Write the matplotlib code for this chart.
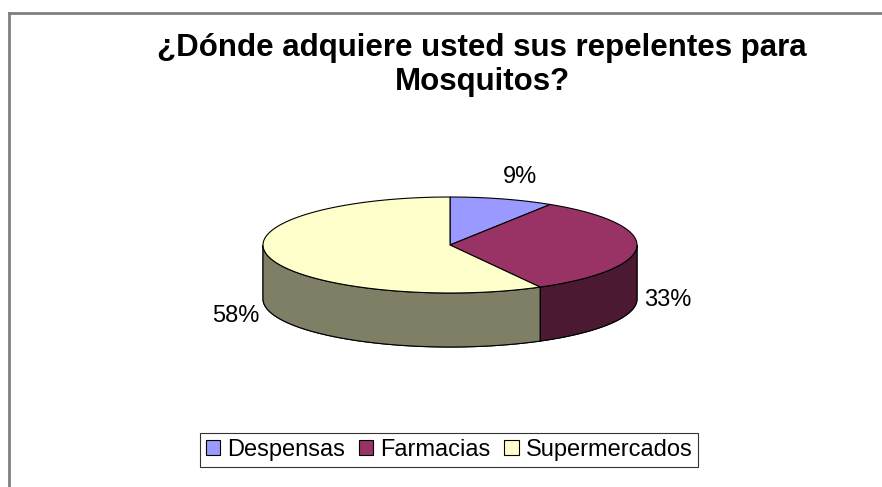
import numpy as np
import matplotlib.pyplot as plt
from matplotlib.patches import Polygon, Patch
from matplotlib.lines import Line2D

plt.rcParams['font.family'] = ['Liberation Sans', 'DejaVu Sans']

categories = ["Despensas", "Farmacias", "Supermercados"]
shares = [9, 33, 58]
top_colors = ["#9999FF", "#993366", "#FFFFCC"]
side_colors = ["#4C4C80", "#4C1933", "#7F7F66"]

fig = plt.figure(figsize=(8.82, 4.87), dpi=100)
ax = fig.add_axes([0, 0, 1, 1])
ax.set_xlim(0, 882)
ax.set_ylim(487, 0)
ax.axis("off")

# pie geometry (pixel units)
cx, cy = 450, 245
rx, ry = 187, 48
depth = 54

fracs = np.array(shares) / sum(shares)
starts = 90 - 360 * np.concatenate([[0], np.cumsum(fracs)[:-1]])
ends = starts - 360 * fracs


def arc(a1, a2, n=100):
    t = np.radians(np.linspace(a1, a2, n))
    return cx + rx * np.cos(t), cy - ry * np.sin(t)


def side(a_hi, a_lo, col):
    x, y = arc(a_hi, a_lo)
    xs = np.concatenate([x, x[::-1]])
    ys = np.concatenate([y, (y + depth)[::-1]])
    ax.add_patch(Polygon(np.column_stack([xs, ys]), closed=True,
                         facecolor=col, edgecolor="black", lw=0.8))


# side walls, only the front half (-180..0 degrees) is visible
for a1, a2, col in zip(starts, ends, side_colors):
    lo, hi = a2, a1
    if min(hi, 0) > max(lo, -180):
        side(min(hi, 0), max(lo, -180), col)
    if min(hi + 360, 360) > max(lo + 360, 180):
        side(min(hi + 360, 360), max(lo + 360, 180), col)

# top faces
for a1, a2, col in zip(starts, ends, top_colors):
    x, y = arc(a1, a2)
    xs = np.concatenate([[cx], x])
    ys = np.concatenate([[cy], y])
    ax.add_patch(Polygon(np.column_stack([xs, ys]), closed=True,
                         facecolor=col, edgecolor="black", lw=0.8))

# percentage labels
label_pos = [(520, 177), (668, 300), (236, 316)]
for s, (lx, ly) in zip(shares, label_pos):
    ax.text(lx, ly, f"{s}%", fontsize=17, ha="center", va="center")

# title
ax.text(482, 65, "¿Dónde adquiere usted sus repelentes para\nMosquitos?",
        fontsize=22.5, fontweight="bold", ha="center", va="center",
        linespacing=1.2)

# chart border (top and left visible)
ax.add_line(Line2D([8.5, 882], [13, 13], color="#808080", lw=2))
ax.add_line(Line2D([8.5, 8.5], [13, 487], color="#808080", lw=2))

handles = [Patch(facecolor=c, edgecolor="black", lw=0.8) for c in top_colors]
leg = fig.legend(handles, categories, loc="center", ncol=3,
                 bbox_to_anchor=(449 / 882, 1 - 450 / 487), fontsize=17,
                 frameon=True, fancybox=False, edgecolor="black",
                 handlelength=0.6, handleheight=0.6, handletextpad=0.3,
                 columnspacing=0.6, borderpad=0.25, borderaxespad=0)
leg.get_frame().set_linewidth(0.8)

fig.savefig("out.png", dpi=100)
